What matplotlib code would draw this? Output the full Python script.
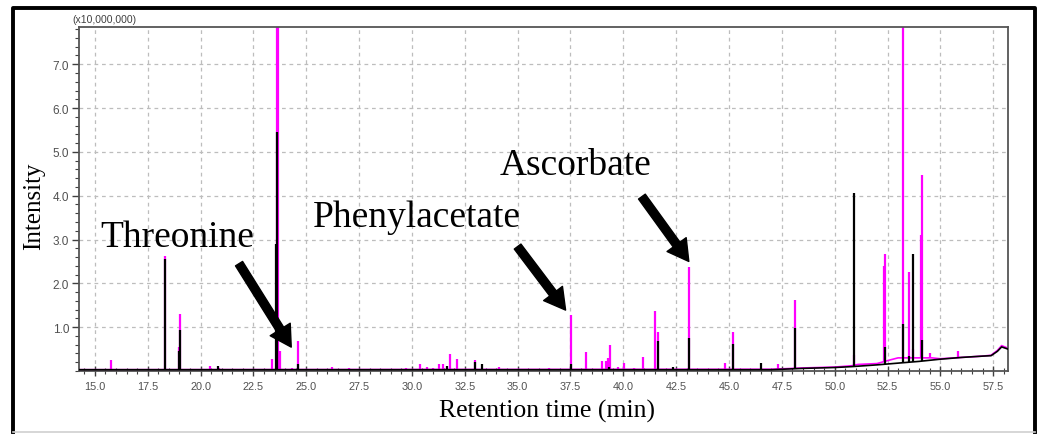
import numpy as np
import matplotlib
matplotlib.use('Agg')
import matplotlib.pyplot as plt
from matplotlib.lines import Line2D
from matplotlib.ticker import MultipleLocator, FormatStrFormatter

# Peak tops (retention time in min, intensity in x10^7)
mag_rt = [15.76, 18.32, 18.98, 19.03, 20.45, 20.85, 23.39, 23.63, 23.66, 23.75, 24.32, 24.62,
          26.2, 27.0, 29.7, 30.4, 30.73, 31.0, 31.3, 31.45, 31.82, 32.15, 33.0, 34.1, 35.0,
          36.5, 37.51, 38.22, 38.98, 39.17, 39.27, 39.36, 39.74, 40.02, 40.5, 40.92, 41.49,
          41.63, 43.1, 44.8, 45.19, 47.32, 48.13, 50.93, 52.35, 52.4, 53.25, 53.53, 53.72,
          54.08, 54.15, 54.5, 55.85]
mag_h = [0.25, 2.63, 0.55, 1.30, 0.12, 0.06, 0.27, 9.0, 9.0, 0.45, 0.08, 0.68,
         0.10, 0.08, 0.08, 0.17, 0.10, 0.08, 0.15, 0.15, 0.38, 0.28, 0.24, 0.10, 0.05,
         0.06, 1.27, 0.43, 0.22, 0.22, 0.30, 0.60, 0.10, 0.18, 0.08, 0.33, 1.36,
         0.89, 2.38, 0.18, 0.89, 0.15, 1.63, 0.36, 2.40, 2.66, 9.0, 2.27, 0.50,
         3.10, 4.48, 0.40, 0.45]

blk_rt = [18.32, 18.98, 19.03, 20.83, 23.55, 23.63, 24.62, 31.68, 33.0, 33.3, 37.51, 39.3,
          41.63, 42.35, 43.1, 45.19, 46.52, 48.13, 50.4, 50.93, 52.4, 53.25, 53.53, 53.72, 54.15]
blk_h = [2.55, 0.45, 0.93, 0.12, 2.90, 5.45, 0.15, 0.12, 0.20, 0.15, 0.15, 0.10,
         0.68, 0.10, 0.75, 0.62, 0.18, 0.98, 0.10, 4.07, 0.55, 1.07, 0.35, 2.68, 0.70]

# Baselines
mag_base_rt = [14.25, 47.0, 48.5, 50.0, 50.8, 51.1, 52.0, 52.6, 53.0, 54.6, 55.0, 56.0, 57.0, 57.4, 57.7, 57.9, 58.2]
mag_base = [0.03, 0.04, 0.07, 0.09, 0.12, 0.15, 0.17, 0.25, 0.30, 0.30, 0.28, 0.31, 0.34, 0.36, 0.47, 0.58, 0.52]
blk_base_rt = [14.25, 47.0, 48.5, 50.0, 50.8, 51.1, 52.0, 53.0, 54.0, 55.0, 56.0, 57.0, 57.4, 57.7, 57.9, 58.2]
blk_base = [0.03, 0.03, 0.06, 0.08, 0.10, 0.11, 0.14, 0.18, 0.22, 0.27, 0.31, 0.34, 0.35, 0.45, 0.55, 0.50]

fig = plt.figure(figsize=(10.44, 4.35), dpi=100)
ax = fig.add_axes([0.0757, 0.1448, 0.8898, 0.7908])

mag = '#ff00ff'
ax.plot(mag_base_rt, mag_base, color=mag, lw=1.2, zorder=2)
ax.vlines(mag_rt, np.interp(mag_rt, mag_base_rt, mag_base), mag_h, color=mag, lw=1.6, zorder=2)
ax.plot(blk_base_rt, blk_base, color='black', lw=1.2, zorder=3)
ax.vlines(blk_rt, np.interp(blk_rt, blk_base_rt, blk_base), blk_h, color='black', lw=1.6, zorder=3)

ax.set_xlim(14.25, 58.2)
ax.set_ylim(0, 7.85)
ax.set_xticks(np.arange(15, 58, 2.5))
ax.set_yticks(np.arange(1, 8, 1))
ax.xaxis.set_major_formatter(FormatStrFormatter('%.1f'))
ax.yaxis.set_major_formatter(FormatStrFormatter('%.1f'))
ax.xaxis.set_minor_locator(MultipleLocator(0.5))
ax.yaxis.set_minor_locator(MultipleLocator(0.2))
ax.tick_params(axis='x', which='major', direction='inout', length=7, width=1, colors='#404040',
               labelsize=7.8, labelcolor='#505050', pad=4)
ax.tick_params(axis='x', which='minor', direction='inout', length=4, width=0.8, colors='#404040')
ax.tick_params(axis='y', which='major', direction='out', length=5, width=1, colors='#404040',
               labelsize=8.5, labelcolor='#505050', pad=2)
ax.tick_params(axis='y', which='minor', direction='out', length=3, width=0.8, colors='#404040')
for lab in ax.get_xticklabels() + ax.get_yticklabels():
    lab.set_family('Liberation Sans')
ax.grid(True, which='major', color='#bdbdbd', linestyle=(0, (3, 3)), linewidth=0.9)
ax.set_axisbelow(True)
for s in ax.spines.values():
    s.set_color('#555555')
    s.set_linewidth(1.3)

fig.text(0.0695, 0.947, '(x10,000,000)', fontsize=7.5, family='Liberation Sans', color='#404040')
fig.text(0.0326, 0.527, 'Intensity', rotation=90, ha='center', va='center',
         fontsize=18, family='Liberation Serif')
fig.text(0.524, 0.053, 'Retention time (min)', ha='center', va='center',
         fontsize=18.5, family='Liberation Serif')

# labels and arrows
ax.text(15.24, 2.86, 'Threonine', fontsize=27, family='Liberation Serif', va='baseline')
ax.text(25.33, 3.30, 'Phenylacetate', fontsize=27, family='Liberation Serif', va='baseline')
ax.text(34.15, 4.50, 'Ascorbate', fontsize=27, family='Liberation Serif', va='baseline')
arr = dict(arrowstyle='simple,head_length=1.5,head_width=1.7,tail_width=0.6',
           mutation_scale=10, color='black', shrinkA=0, shrinkB=0)
ax.annotate('', xy=(24.29, 0.545), xytext=(21.82, 2.45), arrowprops=arr, zorder=5)
ax.annotate('', xy=(37.27, 1.39), xytext=(35.0, 2.84), arrowprops=arr, zorder=5)
ax.annotate('', xy=(43.1, 2.5), xytext=(40.88, 3.98), arrowprops=arr, zorder=5)

# outer frame: black on three sides, light grey at the bottom
L, R, B, T = 0.0125, 0.9914, 0.005, 0.979
fig.add_artist(Line2D([L, L, R, R], [B, T, T, B], transform=fig.transFigure, color='black', lw=2.8))
fig.add_artist(Line2D([L, R], [B, B], transform=fig.transFigure, color='#d0d0d0', lw=1.2))

fig.savefig('out.png', dpi=100)
